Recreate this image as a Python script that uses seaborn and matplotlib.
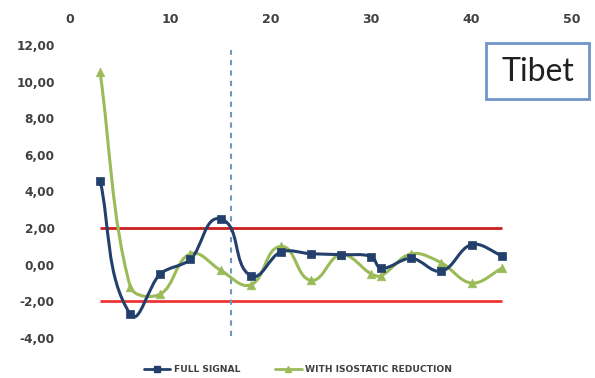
import numpy as np
import matplotlib
matplotlib.use("Agg")
import matplotlib.pyplot as plt
from matplotlib.path import Path
from matplotlib.patches import PathPatch, Rectangle
from matplotlib.lines import Line2D
import seaborn as sns

# data
distance = [3, 6, 9, 12, 15, 18, 21, 24, 27, 30, 31, 34, 37, 40, 43]
full_signal = [4.6, -2.7, -0.5, 0.3, 2.5, -0.6, 0.7, 0.6, 0.55, 0.45, -0.2, 0.35, -0.35, 1.1, 0.5]
isostatic = [10.5, -1.2, -1.6, 0.6, -0.3, -1.1, 1.0, -0.85, 0.55, -0.5, -0.6, 0.6, 0.1, -1.0, -0.2]
limits = [2, -2]
limit_span = [3, 43]
split_x = 16
x_ticks = [0, 10, 20, 30, 40, 50]
y_ticks = [-4, -2, 0, 2, 4, 6, 8, 10, 12]
label_full = "FULL SIGNAL"
label_iso = "WITH ISOSTATIC REDUCTION"
region = "Tibet"

BLUE = "#23406c"
GREEN = "#9bbb59"
GREY = "#404040"

XLIM = (0, 50)
YLIM = (-4, 12)
AX_W, AX_H = 502, 293  # axes size in pixels


def smooth_path(xs, ys):
    # Bezier curve through the points, similar to Excel's "smoothed line".
    # Work in pixel-like units so the tangent lengths follow the look on screen.
    sx = AX_W / (XLIM[1] - XLIM[0])
    sy = AX_H / (YLIM[1] - YLIM[0])
    p = np.column_stack([np.asarray(xs, float) * sx, np.asarray(ys, float) * sy])
    n = len(p)
    d = np.zeros_like(p)
    for i in range(n):
        v = p[min(i + 1, n - 1)] - p[max(i - 1, 0)]
        d[i] = v / np.hypot(*v)
    verts = [p[0]]
    codes = [Path.MOVETO]
    for i in range(n - 1):
        seg = np.hypot(*(p[i + 1] - p[i]))
        verts += [p[i] + d[i] * seg / 3, p[i + 1] - d[i + 1] * seg / 3, p[i + 1]]
        codes += [Path.CURVE4] * 3
    verts = np.array(verts) / [sx, sy]
    return Path(verts, codes)


sns.set_style("white")
plt.rcParams['font.family'] = ['DejaVu Sans']

fig = plt.figure(figsize=(5.95, 3.78), dpi=100)
ax = fig.add_axes([70 / 595, 1 - 338 / 378, AX_W / 595, AX_H / 378])

# limit lines and split marker
ax.hlines(limits[0], limit_span[0], limit_span[1], color="#cc1f1f", lw=2)
ax.hlines(limits[1], limit_span[0], limit_span[1], color="#ee3535", lw=2)
ax.vlines(split_x, -3.9, 11.7, color="#7395c6", lw=1.5, linestyles=(0, (2.5, 2.5)))

# smoothed series
ax.add_patch(PathPatch(smooth_path(distance, isostatic), fill=False,
                       edgecolor=GREEN, lw=2.2, zorder=3))
ax.add_patch(PathPatch(smooth_path(distance, full_signal), fill=False,
                       edgecolor=BLUE, lw=2.2, zorder=4))
sns.scatterplot(x=distance, y=isostatic, marker="^", s=38, color=GREEN,
                edgecolor=GREEN, ax=ax, zorder=5)
sns.scatterplot(x=distance, y=full_signal, marker="s", s=40, color=BLUE,
                edgecolor=BLUE, ax=ax, zorder=6)

ax.set_xlim(*XLIM)
ax.set_ylim(*YLIM)
ax.set_xticks(x_ticks)
ax.set_yticks(y_ticks)
ax.set_yticklabels([f"{v:.2f}".replace(".", ",") for v in y_ticks])
ax.xaxis.tick_top()
ax.tick_params(axis="x", length=0, pad=14, labelsize=9, labelcolor=GREY)
ax.tick_params(axis="y", length=0, pad=11, labelsize=8.7, labelcolor=GREY)
for lab in ax.get_xticklabels() + ax.get_yticklabels():
    lab.set_fontweight("bold")
for s in ax.spines.values():
    s.set_visible(False)
ax.grid(False)

# region label box
fig.patches.append(Rectangle((486 / 595, 1 - 99 / 378), 103 / 595, 56 / 378,
                             transform=fig.transFigure, fill=False,
                             edgecolor="#6f95c9", lw=2))
fig.text(538 / 595, 1 - 72 / 378, region, ha="center", va="center",
         fontsize=23, color="#202020", family=["Lato", "DejaVu Sans"])

handles = [Line2D([], [], color=BLUE, lw=2, marker="s", markersize=5),
           Line2D([], [], color=GREEN, lw=2, marker="^", markersize=5)]
leg = fig.legend(handles, [label_full, label_iso], loc="center",
                 bbox_to_anchor=(298 / 595, 1 - 370 / 378), ncol=2,
                 frameon=False, handlelength=2.9, columnspacing=3.8,
                 handletextpad=0.4, prop={"size": 6.6, "weight": "bold"})
for t in leg.get_texts():
    t.set_color(GREY)

fig.savefig("out.png", dpi=100)
